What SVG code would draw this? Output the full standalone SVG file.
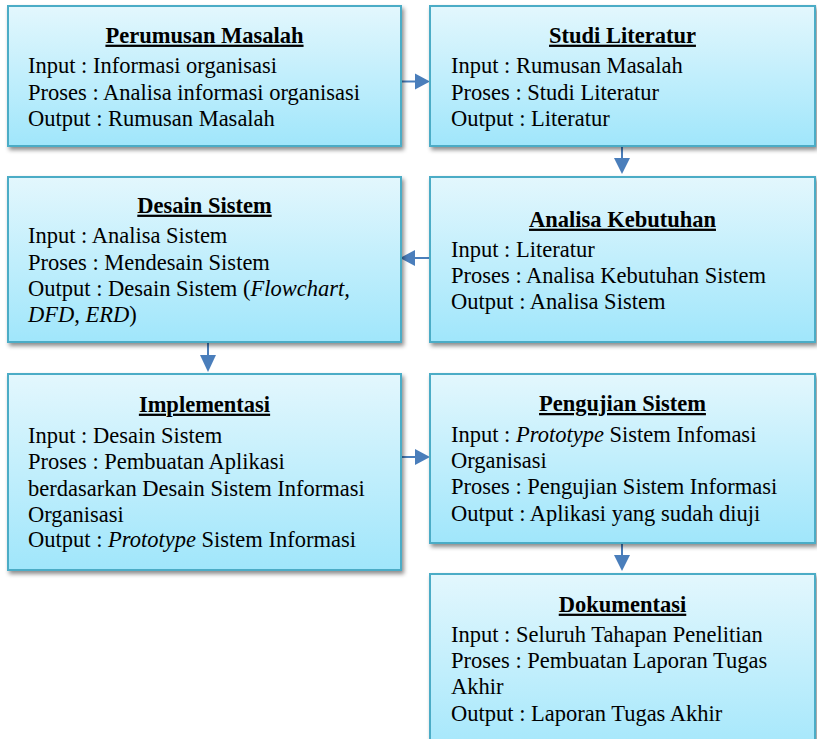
<svg xmlns="http://www.w3.org/2000/svg" width="817" height="739" viewBox="0 0 817 739" font-family="'Liberation Serif', 'Times New Roman', serif">
<defs>
<linearGradient id="g" x1="0" y1="0" x2="0" y2="1">
<stop offset="0" stop-color="#e3f7fd"/>
<stop offset="1" stop-color="#a0e6fb"/>
</linearGradient>
<filter id="sh" x="-5%" y="-5%" width="115%" height="120%">
<feDropShadow dx="2" dy="3" stdDeviation="2" flood-color="#000" flood-opacity="0.45"/>
</filter>
</defs>
<style>
.box{fill:url(#g);stroke:#4bacc6;stroke-width:2;filter:url(#sh)}
text{font-family:'Liberation Serif','Times New Roman',serif;font-size:22.5px;fill:#000}
.t{font-weight:bold;text-decoration:underline;text-anchor:middle}
.i{font-style:italic}
.c{stroke:#4a7ebb;stroke-width:2;fill:none}
.h{fill:#4a7ebb}
</style>

<g id="connectors">
<line class="c" x1="401" y1="81.5" x2="416" y2="81.5"/>
<path class="h" d="M415,73.5 L430,81.5 L415,89.5 Z"/>
<line class="c" x1="622" y1="146" x2="622" y2="159"/>
<path class="h" d="M614,158 L622,174 L630,158 Z"/>
<line class="c" x1="430" y1="258" x2="414" y2="258"/>
<path class="h" d="M415,250 L400,258 L415,266 Z"/>
<line class="c" x1="208" y1="342" x2="208" y2="356"/>
<path class="h" d="M200,355 L208,372 L216,355 Z"/>
<line class="c" x1="401" y1="457" x2="416" y2="457"/>
<path class="h" d="M415,449 L430,457 L415,465 Z"/>
<line class="c" x1="622" y1="543" x2="622" y2="556"/>
<path class="h" d="M614,555 L622,571 L630,555 Z"/>
</g>

<g id="perumusan">
<rect class="box" x="8" y="6" width="393" height="140"/>
<text class="t" x="204.5" y="42.7">Perumusan Masalah</text>
<text x="28" y="73.3">Input : Informasi organisasi</text>
<text x="28" y="99.8">Proses : Analisa informasi organisasi</text>
<text x="28" y="126.3">Output : Rumusan Masalah</text>
</g>

<g id="studi">
<rect class="box" x="430" y="6" width="385" height="140"/>
<text class="t" x="622.5" y="42.7">Studi Literatur</text>
<text x="451" y="73.3">Input : Rumusan Masalah</text>
<text x="451" y="99.8">Proses : Studi Literatur</text>
<text x="451" y="126.3">Output : Literatur</text>
</g>

<g id="desain">
<rect class="box" x="8" y="177" width="393" height="165"/>
<text class="t" x="204.5" y="212.7">Desain Sistem</text>
<text x="28" y="243.3">Input : Analisa Sistem</text>
<text x="28" y="269.5">Proses : Mendesain Sistem</text>
<text x="28" y="295.8">Output : Desain Sistem (<tspan class="i">Flowchart,</tspan></text>
<text x="28" y="322"><tspan class="i">DFD</tspan>, <tspan class="i">ERD</tspan>)</text>
</g>

<g id="analisa">
<rect class="box" x="430" y="177" width="385" height="165"/>
<text class="t" x="622.5" y="226.7">Analisa Kebutuhan</text>
<text x="451" y="257.3">Input : Literatur</text>
<text x="451" y="283.3">Proses : Analisa Kebutuhan Sistem</text>
<text x="451" y="309.3">Output : Analisa Sistem</text>
</g>

<g id="implementasi">
<rect class="box" x="8" y="374" width="393" height="196"/>
<text class="t" x="204.5" y="411.7">Implementasi</text>
<text x="28" y="443.3">Input : Desain Sistem</text>
<text x="28" y="469.3">Proses : Pembuatan Aplikasi</text>
<text x="28" y="495.5">berdasarkan Desain Sistem Informasi</text>
<text x="28" y="521.5">Organisasi</text>
<text x="28" y="547.3">Output : <tspan class="i">Prototype</tspan> Sistem Informasi</text>
</g>

<g id="pengujian">
<rect class="box" x="430" y="374" width="385" height="169"/>
<text class="t" x="622.5" y="411">Pengujian Sistem</text>
<text x="451" y="441.7">Input : <tspan class="i">Prototype</tspan> Sistem Infomasi</text>
<text x="451" y="468">Organisasi</text>
<text x="451" y="494.3">Proses : Pengujian Sistem Informasi</text>
<text x="451" y="520.7">Output : Aplikasi yang sudah diuji</text>
</g>

<g id="dokumentasi">
<rect class="box" x="430" y="574" width="385" height="190"/>
<text class="t" x="622.5" y="611.7">Dokumentasi</text>
<text x="451" y="642.3">Input : Seluruh Tahapan Penelitian</text>
<text x="451" y="668.3">Proses : Pembuatan Laporan Tugas</text>
<text x="451" y="694.3">Akhir</text>
<text x="451" y="721">Output : Laporan Tugas Akhir</text>
</g>
</svg>
